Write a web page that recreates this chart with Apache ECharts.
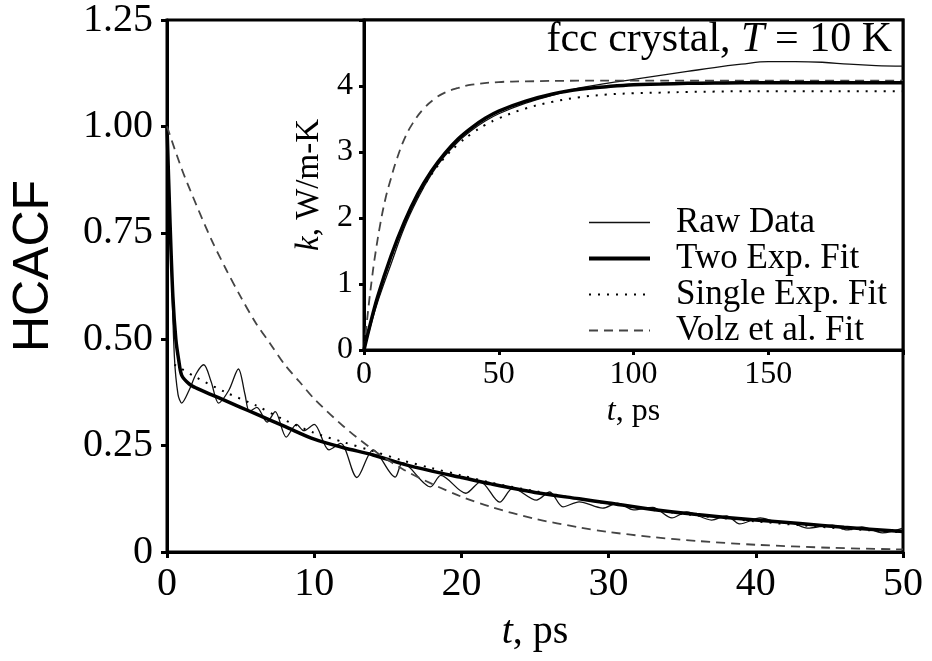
<!DOCTYPE html>
<html><head><meta charset="utf-8">
<script src="https://cdn.jsdelivr.net/npm/echarts@6/dist/echarts.min.js"></script>
<style>html,body{margin:0;padding:0;background:#fff}#c{width:932px;height:661px}</style>
</head><body><div id="c"></div>
<script>
// ---- Main plot (HCACF vs t) ----
const mainYTickLabels = ['0', '0.25', '0.50', '0.75', '1.00', '1.25'];
const mainRawT = [0, 0.25, 0.5, 0.75, 1.0, 1.5, 2.0, 2.5, 3.0, 3.5, 4.2, 4.85, 5.3, 5.6, 6.1, 6.8, 7.35, 8.1, 8.8, 9.3, 10.0, 11.0, 11.8, 12.9, 14.0, 15.5, 16.0, 17.9, 18.6, 20.3, 21.3, 22.6, 23.5, 25.1, 26.0, 26.9, 28.0, 29.6, 30.6, 31.7, 33.0, 34.3, 35.3, 37.0, 38.0, 38.9, 40.3, 41.3, 42.5, 43.5, 45.2, 46.2, 47.2, 48.6, 50];
const mainRaw = [1.00, 0.72, 0.46, 0.37, 0.35, 0.38, 0.42, 0.44, 0.40, 0.35, 0.38, 0.43, 0.37, 0.33, 0.34, 0.305, 0.33, 0.27, 0.30, 0.285, 0.30, 0.24, 0.255, 0.175, 0.24, 0.176, 0.21, 0.153, 0.18, 0.138, 0.165, 0.117, 0.15, 0.122, 0.141, 0.106, 0.118, 0.103, 0.115, 0.099, 0.105, 0.08, 0.094, 0.075, 0.085, 0.066, 0.08, 0.072, 0.068, 0.056, 0.063, 0.052, 0.059, 0.045, 0.056];
const mainTwoExpT = [0, 0.2, 0.4, 0.6, 0.8, 1.0, 1.5, 2, 3, 4, 5, 6, 8, 10, 12, 14, 16, 18, 20, 22, 25, 28, 30, 33, 36, 40, 43, 46, 50];
const mainTwoExp = [1.00, 0.78, 0.60, 0.50, 0.45, 0.415, 0.395, 0.385, 0.37, 0.355, 0.34, 0.325, 0.295, 0.265, 0.245, 0.228, 0.207, 0.19, 0.175, 0.16, 0.14, 0.125, 0.115, 0.10, 0.088, 0.075, 0.067, 0.058, 0.048];
const mainSingleT = [0.5, 1, 2, 4, 6, 8, 10, 12, 14, 16, 18, 20, 22, 25, 28, 30, 33, 36, 40, 43, 46, 50];
const mainSingle = [0.44, 0.43, 0.41, 0.375, 0.345, 0.31, 0.28, 0.258, 0.237, 0.215, 0.197, 0.18, 0.163, 0.143, 0.125, 0.114, 0.099, 0.086, 0.072, 0.063, 0.055, 0.046];
const mainVolzT = [0, 1, 2, 3, 4, 5, 6, 7, 8, 9, 10, 12, 14, 16, 18, 20, 22, 25, 28, 30, 33, 36, 40, 45, 50];
const mainVolz = [1.00, 0.90, 0.815, 0.735, 0.665, 0.60, 0.54, 0.49, 0.44, 0.40, 0.36, 0.295, 0.24, 0.195, 0.16, 0.13, 0.106, 0.078, 0.058, 0.047, 0.035, 0.026, 0.017, 0.010, 0.006];

// ---- Inset (k vs t) ----
const insetXTickLabels = ['0', '50', '100', '150', ''];
const insetYTickLabels = ['0', '1', '2', '3', '4', ''];
const insetT = [0, 2, 5, 10, 15, 20, 25, 30, 35, 40, 45, 50, 60, 70, 80, 90, 100, 110, 120, 130, 140, 150, 160, 170, 180, 190, 200];
const insetRaw = [0, 0.3, 0.72, 1.3, 1.86, 2.3, 2.66, 2.94, 3.16, 3.33, 3.47, 3.58, 3.74, 3.86, 3.97, 4.04, 4.10, 4.16, 4.22, 4.28, 4.33, 4.37, 4.37, 4.36, 4.33, 4.31, 4.30];
const insetTwoExp = [0, 0.34, 0.8, 1.42, 1.94, 2.37, 2.71, 2.98, 3.2, 3.37, 3.51, 3.62, 3.77, 3.88, 3.95, 3.99, 4.02, 4.03, 4.04, 4.045, 4.05, 4.05, 4.05, 4.05, 4.05, 4.05, 4.05];
const insetSingle = [0, 0.33, 0.79, 1.4, 1.91, 2.33, 2.66, 2.92, 3.12, 3.28, 3.41, 3.51, 3.66, 3.76, 3.83, 3.87, 3.89, 3.90, 3.91, 3.915, 3.92, 3.92, 3.92, 3.92, 3.92, 3.92, 3.92];
const insetVolzT = [0, 1, 2, 3, 4, 6, 8, 10, 12, 15, 18, 22, 26, 30, 35, 40, 50, 60, 80, 100, 150, 200];
const insetVolz = [0, 0.4, 0.77, 1.1, 1.4, 1.9, 2.3, 2.6, 2.87, 3.2, 3.43, 3.65, 3.8, 3.9, 3.97, 4.02, 4.06, 4.07, 4.08, 4.08, 4.08, 4.08];

const names = ['Raw Data', 'Two Exp. Fit', 'Single Exp. Fit', 'Volz et al. Fit'];

const zip = (a, b) => a.map((v, i) => [v, b[i]]);
const SERIF = 'Liberation Serif';

const styles = {
  raw: { color: '#111', width: 1.3, type: 'solid' },
  two: { color: '#000', width: 3.5, type: 'solid' },
  single: { color: '#000', width: 2, type: [2, 7] },
  volz: { color: '#444', width: 1.8, type: [9, 6] }
};
const styleList = [styles.raw, styles.two, styles.single, styles.volz];

function line(name, data, st, xi, z, smooth) {
  return {
    name, type: 'line', data, xAxisIndex: xi, yAxisIndex: xi,
    symbol: 'none', smooth: smooth, z: z,
    lineStyle: { color: st.color, width: st.width, type: st.type },
    itemStyle: { color: st.color },
    animation: false
  };
}

const chart = echarts.init(document.getElementById('c'), null, { renderer: 'canvas' });
chart.setOption({
  backgroundColor: '#fff',
  animation: false,
  title: {
    text: 'fcc crystal, {i|T} = 10 K',
    right: 40, top: 19, padding: 0, z: 10,
    textStyle: {
      fontFamily: SERIF, fontSize: 42, fontWeight: 'normal', color: '#000',
      rich: { i: { fontFamily: SERIF, fontSize: 42, fontStyle: 'italic', color: '#000' } }
    }
  },
  graphic: [{
    type: 'text', x: 34, y: 266, rotation: Math.PI / 2, z: 10,
    style: { text: 'HCACF', fontFamily: 'Liberation Sans', fontSize: 50, fill: '#000', align: 'center', verticalAlign: 'middle' }
  }],
  legend: {
    data: names.map((n, i) => ({
      name: n,
      lineStyle: { color: styleList[i].color, width: styleList[i].width + (i === 1 ? 0.5 : 0), type: styleList[i].type }
    })),
    orient: 'vertical',
    left: 587, top: 205, padding: 0,
    itemWidth: 61, itemHeight: 14, itemGap: 1,
    z: 10,
    itemStyle: { opacity: 0 },
    textStyle: { fontFamily: SERIF, fontSize: 35, color: '#000', padding: [0, 0, 0, 21] },
    selectedMode: false
  },
  grid: [
    { left: 167, right: 29, top: 20, bottom: 109, show: true, borderColor: '#000', borderWidth: 3, backgroundColor: 'transparent', z: 0 },
    { left: 364, right: 29, top: 20, bottom: 311, show: true, borderColor: '#000', borderWidth: 3, backgroundColor: '#fff', z: 3 }
  ],
  xAxis: [
    {
      type: 'value', gridIndex: 0, min: 0, max: 50, interval: 10,
      axisLine: { lineStyle: { color: '#000', width: 3 } },
      axisTick: { inside: false, length: 6, lineStyle: { color: '#000', width: 3 } },
      axisLabel: { fontFamily: SERIF, fontSize: 40, color: '#000', margin: 12 },
      splitLine: { show: false },
      name: '{i|t}{n|, ps}', nameLocation: 'middle', nameGap: 60,
      nameTextStyle: { rich: { i: { fontFamily: SERIF, fontSize: 40, fontStyle: 'italic', color: '#000' }, n: { fontFamily: SERIF, fontSize: 40, color: '#000' } } }
    },
    {
      type: 'value', gridIndex: 1, min: 0, max: 200, interval: 50, z: 5,
      axisLine: { lineStyle: { color: '#000', width: 3 } },
      axisTick: { inside: false, length: 5, lineStyle: { color: '#000', width: 3 } },
      axisLabel: { fontFamily: SERIF, fontSize: 32, color: '#000', margin: 9, formatter: (v, i) => insetXTickLabels[i] },
      splitLine: { show: false },
      name: '{i|t}{n|, ps}', nameLocation: 'middle', nameGap: 46,
      nameTextStyle: { rich: { i: { fontFamily: SERIF, fontSize: 32, fontStyle: 'italic', color: '#000' }, n: { fontFamily: SERIF, fontSize: 32, color: '#000' } } }
    }
  ],
  yAxis: [
    {
      type: 'value', gridIndex: 0, min: 0, max: 1.25, interval: 0.25,
      axisLine: { lineStyle: { color: '#000', width: 3 } },
      axisTick: { inside: false, length: 6, lineStyle: { color: '#000', width: 3 } },
      axisLabel: { fontFamily: SERIF, fontSize: 40, color: '#000', margin: 14, formatter: (v, i) => mainYTickLabels[i] },
      splitLine: { show: false }
    },
    {
      type: 'value', gridIndex: 1, min: 0, max: 5, interval: 1, z: 5,
      axisLine: { lineStyle: { color: '#000', width: 3 } },
      axisTick: { inside: false, length: 5, lineStyle: { color: '#000', width: 3 } },
      axisLabel: { fontFamily: SERIF, fontSize: 32, color: '#000', margin: 11, formatter: (v, i) => insetYTickLabels[i] },
      splitLine: { show: false },
      name: '{i|k}{n|, W/m-K}', nameLocation: 'middle', nameGap: 30, nameRotate: 90,
      nameTextStyle: { rich: { i: { fontFamily: SERIF, fontSize: 33, fontStyle: 'italic', color: '#000' }, n: { fontFamily: SERIF, fontSize: 33, color: '#000' } } }
    }
  ],
  series: [
    line(names[0], zip(insetT, insetRaw), styles.raw, 1, 6, 0.4),
    line(names[1], zip(insetT, insetTwoExp), styles.two, 1, 7, 0.4),
    line(names[2], zip(insetT, insetSingle), styles.single, 1, 6, 0.4),
    line(names[3], zip(insetVolzT, insetVolz), styles.volz, 1, 6, 0.4),
    line(names[0], zip(mainRawT, mainRaw), styles.raw, 0, 2, 0.3),
    line(names[1], zip(mainTwoExpT, mainTwoExp), styles.two, 0, 2, 0.3),
    line(names[2], zip(mainSingleT, mainSingle), styles.single, 0, 2, 0.3),
    line(names[3], zip(mainVolzT, mainVolz), styles.volz, 0, 2, 0.3)
  ]
});
</script>
</body></html>
